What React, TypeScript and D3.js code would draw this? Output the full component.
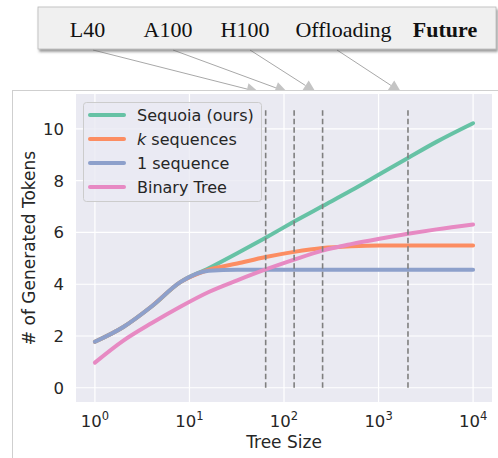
import React from 'react';
import * as d3 from 'd3';

// tree sizes and generated tokens per series
const sizes = [1, 2, 4, 8, 16, 32, 64, 128, 256, 512, 1024, 2048, 4096, 10000];
const sequoia = [1.78, 2.35, 3.15, 4.08, 4.62, 5.2, 5.8, 6.42, 7.02, 7.62, 8.25, 8.88, 9.5, 10.22];
const kSequences = [1.78, 2.35, 3.15, 4.08, 4.56, 4.8, 5.05, 5.25, 5.4, 5.47, 5.5, 5.5, 5.5, 5.5];
const oneSequence = [1.78, 2.35, 3.15, 4.08, 4.52, 4.56, 4.56, 4.56, 4.56, 4.56, 4.56, 4.56, 4.56, 4.56];
const binaryTree = [0.97, 1.82, 2.5, 3.13, 3.7, 4.15, 4.57, 4.95, 5.3, 5.55, 5.76, 5.95, 6.12, 6.31];

const hardware = ['L40', 'A100', 'H100', 'Offloading', 'Future'];
const hardwareX = [87.5, 168, 245, 343.5, 445];
const budgets = [64, 128, 256, 2048];
const arrowFrom = [93, 173, 250, 337];
const dashTop = 10.8;

const xTicks = [1, 10, 100, 1000, 10000];
const yTicks = [0, 2, 4, 6, 8, 10];

const series = [
  {name: 'Sequoia (ours)', values: sequoia, color: '#66c2a5'},
  {name: 'k sequences', values: kSequences, color: '#fc8d62'},
  {name: '1 sequence', values: oneSequence, color: '#8da0cb'},
  {name: 'Binary Tree', values: binaryTree, color: '#e78ac3'},
];

const font = 'DejaVu Sans, sans-serif';
const textColor = '#262626';

export default function App() {
  const left = 76, right = 492, top = 94, bottom = 402;
  const x = d3.scaleLog().domain([Math.pow(10, -0.2), Math.pow(10, 4.2)]).range([left, right]);
  const y = d3.scaleLinear().domain([-0.55, 11.35]).range([bottom, top]);

  const line = d3.line<number>()
    .x((d, i) => x(sizes[i]))
    .y(d => y(d))
    .curve(d3.curveMonotoneX);

  return (
    <svg width={498} height={458} style={{position: 'absolute', left: 0, top: 0}}
         xmlns="http://www.w3.org/2000/svg">
      <defs>
        <filter id="shadow" x="-5%" y="-20%" width="110%" height="160%">
          <feDropShadow dx="1.5" dy="2.5" stdDeviation="1.2" floodColor="#555" floodOpacity="0.6"/>
        </filter>
        <clipPath id="aboveFrame">
          <rect x={0} y={0} width={498} height={90}/>
        </clipPath>
      </defs>
      <rect width={498} height={458} fill="#fff"/>

      {/* hardware box with arrows */}
      <g clipPath="url(#aboveFrame)">
        {budgets.map((b, i) => {
          const x1 = arrowFrom[i], y1 = 50, x2 = x(b) - 7, y2 = 92;
          const ang = Math.atan2(y2 - y1, x2 - x1);
          const hl = 12, hw = 6;
          const bx = x2 - hl * Math.cos(ang), by = y2 - hl * Math.sin(ang);
          const px = -Math.sin(ang) * hw, py = Math.cos(ang) * hw;
          return (
            <g key={b}>
              <line x1={x1} y1={y1} x2={bx} y2={by} stroke="#a8a8a8" strokeWidth={1}/>
              <polygon points={`${x2},${y2} ${bx + px},${by + py} ${bx - px},${by - py}`} fill="#c4c4c4"/>
            </g>
          );
        })}
      </g>
      <rect x={38} y={7} width={458} height={42} fill="#f0f0f0" stroke="#b8b8b8"
            strokeWidth={0.8} filter="url(#shadow)"/>
      {hardware.map((h, i) => (
        <text key={h} x={hardwareX[i]} y={37} textAnchor="middle" fontFamily="Liberation Serif, serif"
              fontSize={22} fontWeight={h === 'Future' ? 'bold' : 'normal'} fill="#111">{h}</text>
      ))}

      {/* figure frame */}
      <rect x={12.5} y={90.5} width={600} height={500} fill="#fff" stroke="#cfcfcf" strokeWidth={1}/>

      {/* axes */}
      <rect x={left} y={top} width={right - left} height={bottom - top} fill="#eaeaf2"/>
      {xTicks.map(t => (
        <line key={'gx' + t} x1={x(t)} x2={x(t)} y1={top} y2={bottom} stroke="#fff" strokeWidth={1.2}/>
      ))}
      {yTicks.map(t => (
        <line key={'gy' + t} x1={left} x2={right} y1={y(t)} y2={y(t)} stroke="#fff" strokeWidth={1.2}/>
      ))}

      {series.map(s => (
        <path key={s.name} d={line(s.values) || ''} fill="none" stroke={s.color} strokeWidth={4}
              strokeLinecap="round" strokeLinejoin="round"/>
      ))}

      {budgets.map(b => (
        <line key={'v' + b} x1={x(b)} x2={x(b)} y1={y(0)} y2={y(dashTop)} stroke="#7f7f7f"
              strokeWidth={1.6} strokeDasharray="5.5,3"/>
      ))}

      {/* tick labels */}
      {xTicks.map(t => (
        <text key={'tx' + t} x={x(t)} y={427} textAnchor="middle" fontFamily={font} fontSize={16.5} fill={textColor}>
          <tspan>10</tspan>
          <tspan fontSize={11.5} dy={-7}>{Math.round(Math.log10(t))}</tspan>
        </text>
      ))}
      {yTicks.map(t => (
        <text key={'ty' + t} x={64} y={y(t)} dy="0.36em" textAnchor="end" fontFamily={font} fontSize={16.5}
              fill={textColor}>{t}</text>
      ))}
      <text x={(left + right) / 2} y={448} textAnchor="middle" fontFamily={font} fontSize={17}
            fill={textColor}>Tree Size</text>
      <text transform={`translate(35,${(top + bottom) / 2}) rotate(-90)`} textAnchor="middle"
            fontFamily={font} fontSize={17} fill={textColor}># of Generated Tokens</text>

      {/* legend */}
      <rect x={83.5} y={102.5} width={178} height={99} rx={3} fill="#eaeaf2" fillOpacity={0.8}
            stroke="#cccccc" strokeWidth={1}/>
      {series.map((s, i) => (
        <g key={'lg' + s.name} transform={`translate(0,${115 + i * 24})`}>
          <line x1={90} x2={124} y1={0} y2={0} stroke={s.color} strokeWidth={4} strokeLinecap="round"/>
          <text x={137} y={0} dy="0.36em" fontFamily={font} fontSize={16} fill={textColor}>
            {s.name.startsWith('k ') ? (<><tspan fontStyle="italic">k</tspan>{s.name.slice(1)}</>) : s.name}
          </text>
        </g>
      ))}
    </svg>
  );
}
